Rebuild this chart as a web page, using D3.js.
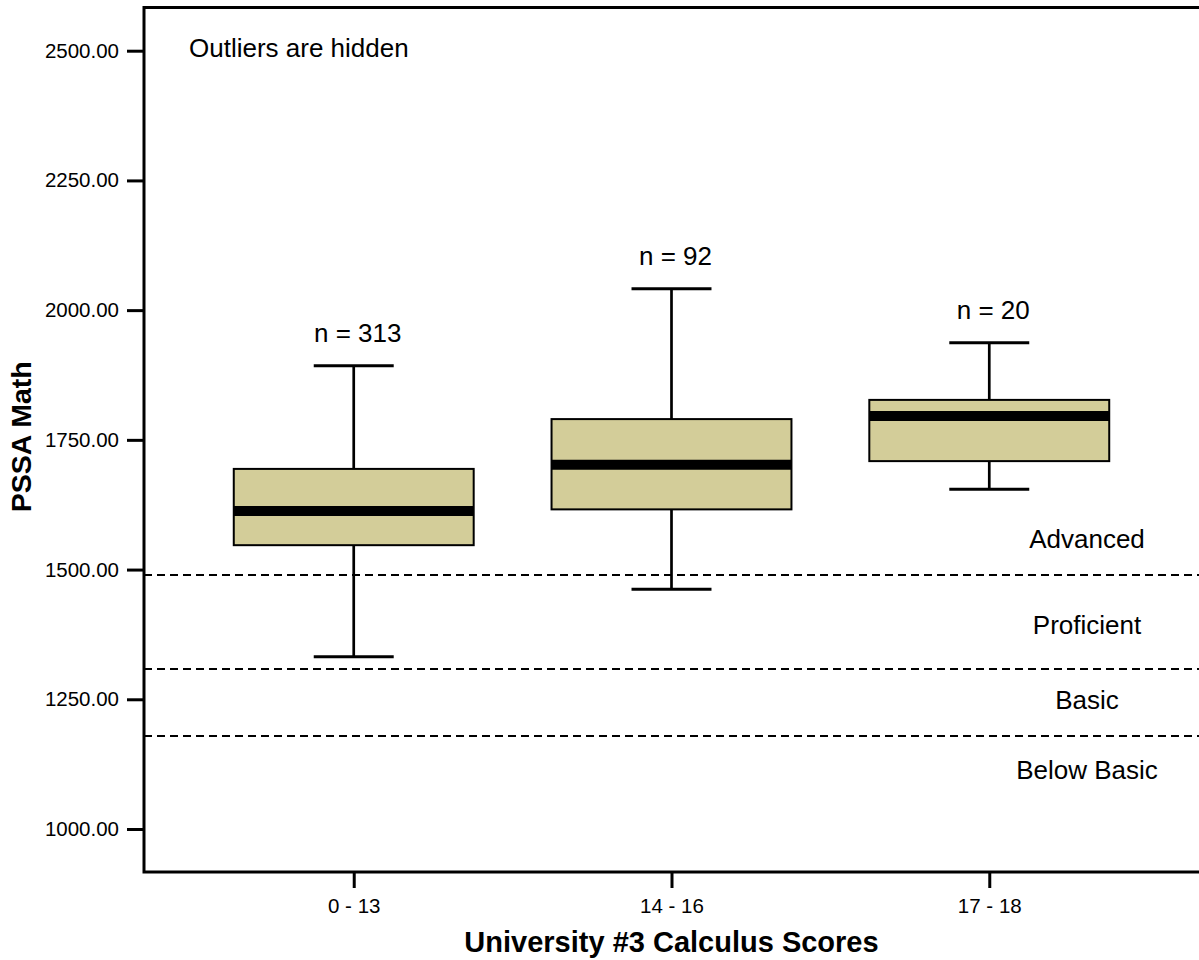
<!DOCTYPE html>
<html>
<head>
<meta charset="utf-8">
<script src="https://cdn.jsdelivr.net/npm/d3@7"></script>
<style>
  html, body { margin: 0; padding: 0; background: #fff; }
  svg { display: block; }
  text { font-family: "Liberation Sans", Arial, Helvetica, sans-serif; fill: #000; }
</style>
</head>
<body>
<svg id="chart" width="1199" height="960"></svg>
<script>
// ---- Data ----
const categories   = ["0 - 13", "14 - 16", "17 - 18"];
const counts       = [313, 92, 20];
const whiskerLow   = [1332, 1462, 1655];
const q1           = [1547, 1616, 1709];
const median       = [1613, 1702, 1796];
const q3           = [1694, 1790, 1827];
const whiskerHigh  = [1893, 2041, 1937];
const cutScores    = [1489, 1309, 1180];
const bandLabels   = ["Advanced", "Proficient", "Basic", "Below Basic"];
const bandLabelAt  = [1560, 1393, 1248, 1113];
const yTicks       = [1000, 1250, 1500, 1750, 2000, 2250, 2500];
const note         = "Outliers are hidden";
const xTitle       = "University #3 Calculus Scores";
const yTitle       = "PSSA Math";

// ---- Layout ----
const svg = d3.select("#chart");
const plot = { left: 144, top: 7.5, right: 1199, bottom: 872 };

const y = d3.scaleLinear().domain([1000, 2500]).range([829, 50.7]);
const x = d3.scalePoint().domain(categories).range([plot.left, plot.right]).padding(0.66);
const step = x.step();
const boxW = step * 0.755;
const capW = boxW / 3;

const boxes = categories.map((c, i) => ({
  cat: c, n: counts[i], lo: whiskerLow[i], q1: q1[i], med: median[i], q3: q3[i], hi: whiskerHigh[i]
}));

// Cut-score dashed lines
svg.append("g").selectAll("line").data(cutScores).join("line")
  .attr("x1", plot.left).attr("x2", plot.right + 5)
  .attr("y1", d => Math.round(y(d))).attr("y2", d => Math.round(y(d)))
  .attr("stroke", "#000").attr("stroke-width", 2)
  .attr("stroke-dasharray", "8,5");

// Band labels
svg.append("g").selectAll("text").data(bandLabels).join("text")
  .attr("x", 1087).attr("y", (d, i) => y(bandLabelAt[i]))
  .attr("dy", "0.35em")
  .attr("text-anchor", "middle")
  .style("font-size", "26px")
  .text(d => d);

// Boxes
const g = svg.append("g").selectAll("g").data(boxes).join("g");

g.append("line")
  .attr("x1", d => x(d.cat)).attr("x2", d => x(d.cat))
  .attr("y1", d => y(d.hi)).attr("y2", d => y(d.lo))
  .attr("stroke", "#000").attr("stroke-width", 2.7);

g.append("line")
  .attr("x1", d => x(d.cat) - capW / 2).attr("x2", d => x(d.cat) + capW / 2)
  .attr("y1", d => y(d.hi)).attr("y2", d => y(d.hi))
  .attr("stroke", "#000").attr("stroke-width", 3);

g.append("line")
  .attr("x1", d => x(d.cat) - capW / 2).attr("x2", d => x(d.cat) + capW / 2)
  .attr("y1", d => y(d.lo)).attr("y2", d => y(d.lo))
  .attr("stroke", "#000").attr("stroke-width", 3);

g.append("rect")
  .attr("x", d => x(d.cat) - boxW / 2).attr("width", boxW)
  .attr("y", d => y(d.q3)).attr("height", d => y(d.q1) - y(d.q3))
  .attr("fill", "#d3cd99").attr("stroke", "#000").attr("stroke-width", 2);

g.append("line")
  .attr("x1", d => x(d.cat) - boxW / 2).attr("x2", d => x(d.cat) + boxW / 2)
  .attr("y1", d => y(d.med)).attr("y2", d => y(d.med))
  .attr("stroke", "#000").attr("stroke-width", 10);

g.append("text")
  .attr("x", d => x(d.cat) + 4).attr("y", d => y(d.hi) - 24)
  .attr("text-anchor", "middle")
  .style("font-size", "26px")
  .text(d => "n = " + d.n);

// Frame (right side falls outside the view)
svg.append("rect")
  .attr("x", plot.left).attr("y", plot.top)
  .attr("width", plot.right - plot.left + 20).attr("height", plot.bottom - plot.top)
  .attr("fill", "none").attr("stroke", "#000").attr("stroke-width", 3);

// Y axis
const yAxis = svg.append("g").attr("transform", `translate(${plot.left},0)`)
  .call(d3.axisLeft(y).tickValues(yTicks).tickFormat(d3.format(".2f")).tickSize(17).tickPadding(8));
yAxis.select(".domain").remove();
yAxis.selectAll(".tick line").attr("stroke", "#000").attr("stroke-width", 3);
yAxis.selectAll(".tick text").style("font-size", "20.5px")
  .style("font-family", '"Liberation Sans", Arial, sans-serif').attr("fill", "#000");

// X axis
const xAxis = svg.append("g").attr("transform", `translate(0,${plot.bottom})`)
  .call(d3.axisBottom(x).tickSize(16).tickPadding(10));
xAxis.select(".domain").remove();
xAxis.selectAll(".tick line").attr("stroke", "#000").attr("stroke-width", 3);
xAxis.selectAll(".tick text").style("font-size", "20.5px")
  .style("font-family", '"Liberation Sans", Arial, sans-serif').attr("fill", "#000");

// Titles
svg.append("text")
  .attr("x", (plot.left + plot.right) / 2).attr("y", 952)
  .attr("text-anchor", "middle")
  .style("font-size", "29px").style("font-weight", "bold")
  .text(xTitle);

svg.append("text")
  .attr("transform", `translate(31,${(plot.top + plot.bottom) / 2 - 3}) rotate(-90)`)
  .attr("text-anchor", "middle")
  .style("font-size", "28.5px").style("font-weight", "bold")
  .text(yTitle);

// Note
svg.append("text")
  .attr("x", 189).attr("y", 57)
  .style("font-size", "26px")
  .text(note);
</script>
</body>
</html>
